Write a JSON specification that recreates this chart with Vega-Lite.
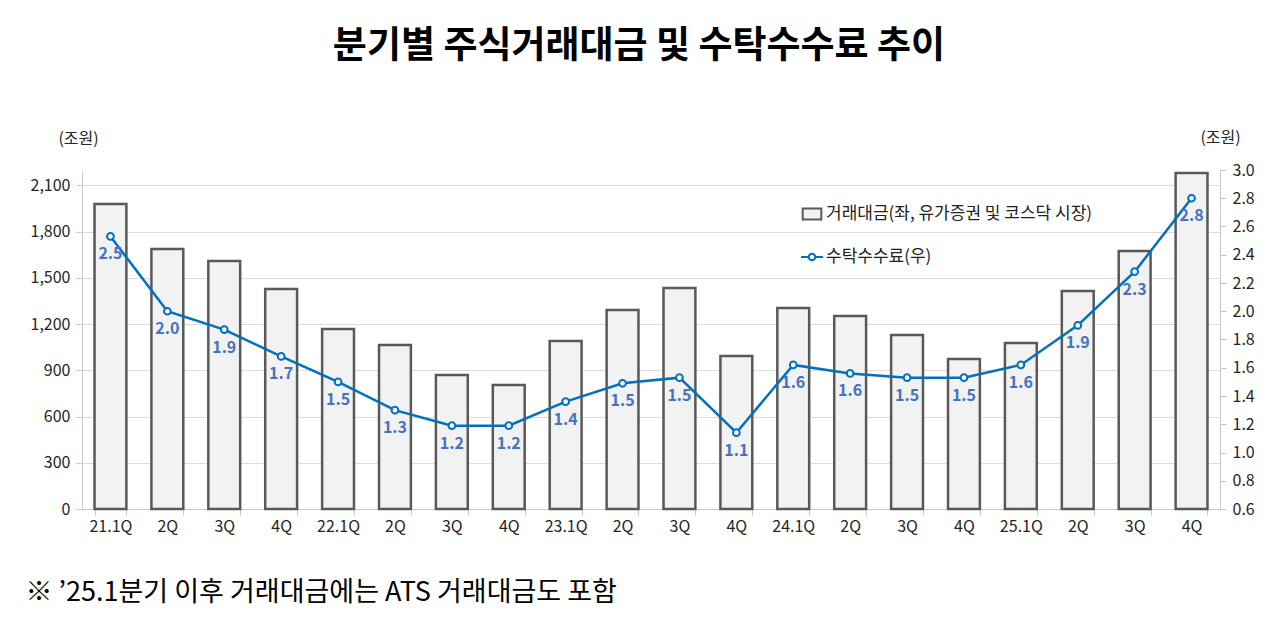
{
  "$schema": "https://vega.github.io/schema/vega-lite/v6.json",
  "autosize": {"type": "none"},
  "padding": {"left": 82, "top": 170, "right": 60, "bottom": 121},
  "width": 1138,
  "height": 339,
  "background": "white",
  "title": {
    "text": "분기별 주식거래대금 및 수탁수수료 추이",
    "font": "Noto Sans CJK KR",
    "fontSize": 37,
    "fontWeight": "bold",
    "color": "#000000",
    "anchor": "middle",
    "dx": -12,
    "offset": 63
  },
  "config": {
    "font": "Noto Sans CJK KR",
    "view": {"stroke": null},
    "axis": {
      "labelFont": "Noto Sans CJK KR",
      "labelFontSize": 16,
      "labelColor": "#262626",
      "domainColor": "#C8C8C8",
      "tickColor": "#C8C8C8",
      "gridColor": "#DDDDDD",
      "titleFont": "Noto Sans CJK KR",
      "titleFontWeight": "normal",
      "titleColor": "#262626"
    },
    "legend": {
      "labelFont": "Noto Sans CJK KR",
      "labelFontSize": 17,
      "labelColor": "#222222",
      "labelLimit": 0,
      "labelOffset": 2
    }
  },
  "data": {
    "values": [
      {"quarter": "21.1Q", "trading": 1980, "fee": 2.53},
      {"quarter": "21.2Q", "trading": 1688, "fee": 2.0},
      {"quarter": "21.3Q", "trading": 1610, "fee": 1.87},
      {"quarter": "21.4Q", "trading": 1428, "fee": 1.68},
      {"quarter": "22.1Q", "trading": 1168, "fee": 1.5},
      {"quarter": "22.2Q", "trading": 1065, "fee": 1.3},
      {"quarter": "22.3Q", "trading": 870, "fee": 1.19},
      {"quarter": "22.4Q", "trading": 805, "fee": 1.19},
      {"quarter": "23.1Q", "trading": 1090, "fee": 1.36},
      {"quarter": "23.2Q", "trading": 1291, "fee": 1.49},
      {"quarter": "23.3Q", "trading": 1434, "fee": 1.53},
      {"quarter": "23.4Q", "trading": 993, "fee": 1.14},
      {"quarter": "24.1Q", "trading": 1304, "fee": 1.62},
      {"quarter": "24.2Q", "trading": 1253, "fee": 1.56},
      {"quarter": "24.3Q", "trading": 1129, "fee": 1.53},
      {"quarter": "24.4Q", "trading": 973, "fee": 1.53},
      {"quarter": "25.1Q", "trading": 1077, "fee": 1.62},
      {"quarter": "25.2Q", "trading": 1415, "fee": 1.9},
      {"quarter": "25.3Q", "trading": 1674, "fee": 2.28},
      {"quarter": "25.4Q", "trading": 2180, "fee": 2.8}
    ]
  },
  "encoding": {
    "x": {
      "field": "quarter",
      "type": "ordinal",
      "sort": null,
      "scale": {"paddingInner": 0.44, "paddingOuter": 0.22},
      "axis": {
        "labelAngle": 0,
        "labelExpr": "indexof(datum.label, '.1Q') >= 0 ? datum.label : slice(datum.label, -2)",
        "tickBand": "extent",
        "tickSize": 6,
        "labelPadding": 3,
        "title": "※ ’25.1분기 이후 거래대금에는 ATS 거래대금도 포함",
        "titleFontSize": 27,
        "titleColor": "#000000",
        "titleAnchor": "start",
        "titleAlign": "left",
        "titleBaseline": "middle",
        "titleX": -57,
        "titleY": 83
      }
    }
  },
  "layer": [
    {
      "mark": {"type": "bar", "stroke": "#595959", "strokeWidth": 2.5},
      "encoding": {
        "y": {
          "field": "trading",
          "type": "quantitative",
          "scale": {"domain": [0, 2200], "nice": false},
          "axis": {
            "values": [0, 300, 600, 900, 1200, 1500, 1800, 2100],
            "format": ",.0f",
            "grid": true,
            "tickSize": 6,
            "labelPadding": 6,
            "title": "(조원)",
            "titleFontSize": 16,
            "titleAngle": 0,
            "titleAlign": "center",
            "titleBaseline": "middle",
            "titleX": -4,
            "titleY": -32
          }
        },
        "fill": {
          "datum": "거래대금(좌, 유가증권 및 코스닥 시장)",
          "type": "nominal",
          "scale": {"range": ["#F2F2F2"]},
          "legend": {
            "title": null,
            "orient": "none",
            "legendX": 718,
            "legendY": 32,
            "symbolType": "M-0.85,-0.5H0.85V0.5H-0.85Z",
            "symbolSize": 480,
            "symbolStrokeColor": "#595959",
            "symbolStrokeWidth": 2,
            "symbolOpacity": 1
          }
        }
      }
    },
    {
      "encoding": {
        "y": {
          "field": "fee",
          "type": "quantitative",
          "scale": {"domain": [0.6, 3.0], "nice": false, "zero": false},
          "axis": {
            "orient": "right",
            "values": [0.6, 0.8, 1.0, 1.2, 1.4, 1.6, 1.8, 2.0, 2.2, 2.4, 2.6, 2.8, 3.0],
            "format": ".1f",
            "grid": false,
            "tickSize": 6,
            "labelPadding": 6,
            "title": "(조원)",
            "titleFontSize": 16,
            "titleAngle": 0,
            "titleAlign": "center",
            "titleBaseline": "middle",
            "titleX": 0,
            "titleY": -33
          }
        }
      },
      "layer": [
        {
          "mark": {
            "type": "line",
            "strokeWidth": 2.5,
            "point": {"filled": false, "fill": "white", "size": 45, "strokeWidth": 2}
          },
          "encoding": {
            "stroke": {
              "datum": "수탁수수료(우)",
              "type": "nominal",
              "scale": {"range": ["#0070C0"]},
              "legend": {
                "title": null,
                "orient": "none",
                "legendX": 718,
                "legendY": 75,
                "symbolType": "M-1,0H-0.3M0.3,0H1M-0.3,0A0.3,0.3 0 1,0 0.3,0A0.3,0.3 0 1,0 -0.3,0Z",
                "symbolSize": 480,
                "symbolFillColor": "#ffffff",
                "symbolStrokeWidth": 2,
                "symbolOpacity": 1
              }
            }
          }
        },
        {
          "mark": {
            "type": "text",
            "dy": 18,
            "fontSize": 16,
            "fontWeight": "bold",
            "color": "#4472C4"
          },
          "encoding": {
            "text": {"field": "fee", "type": "quantitative", "format": ".1f"}
          }
        }
      ]
    }
  ],
  "resolve": {"scale": {"y": "independent"}}
}
